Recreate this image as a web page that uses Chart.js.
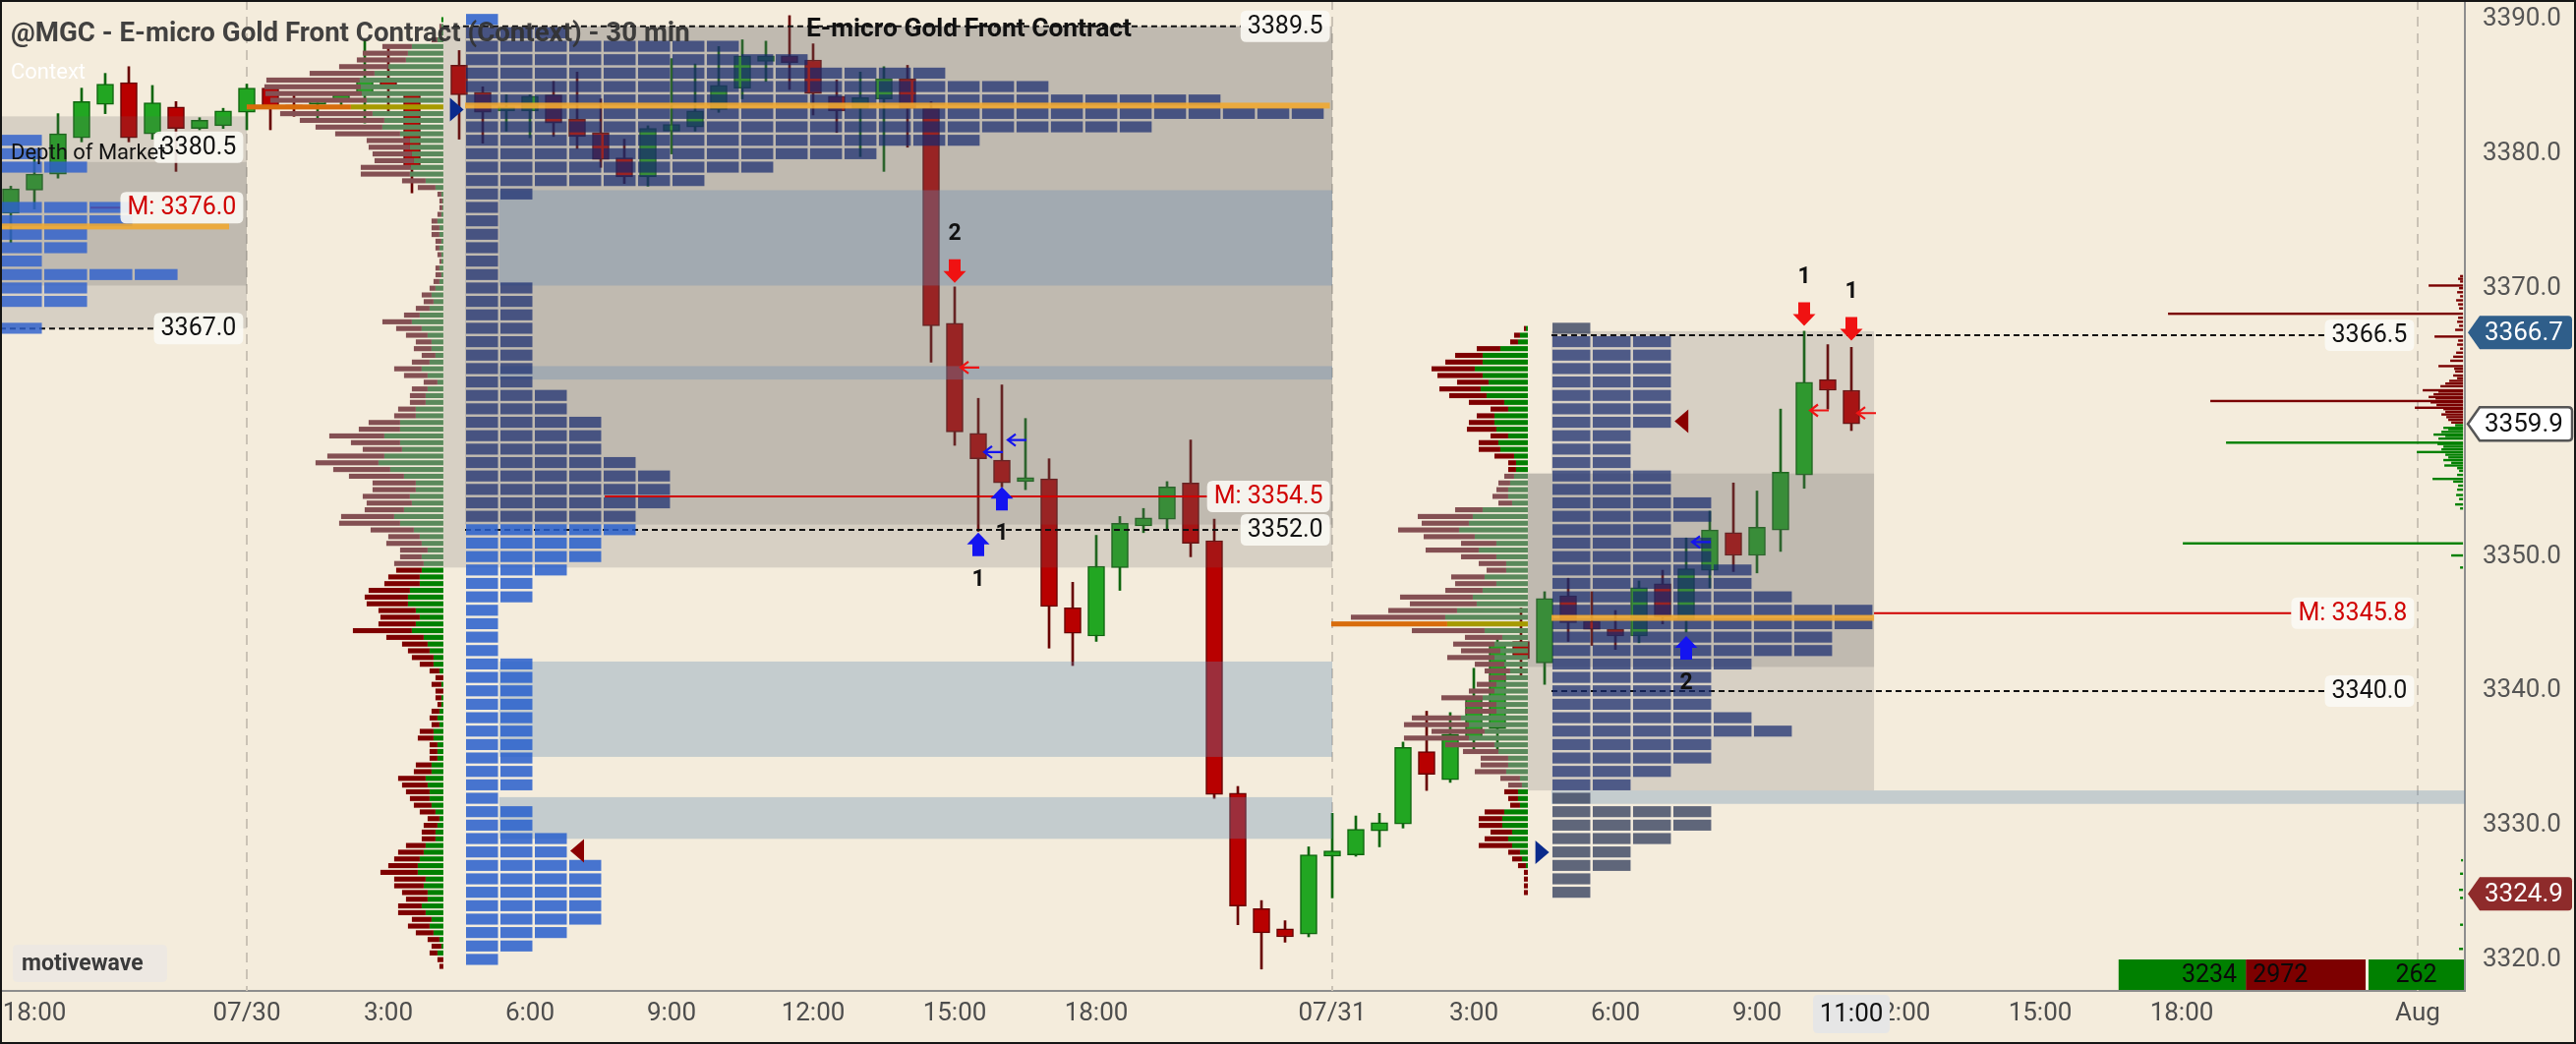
<!DOCTYPE html>
<html><head><meta charset="utf-8">
<script src="https://cdn.jsdelivr.net/npm/chart.js@4.4.1/dist/chart.umd.min.js"></script>
<style>
html,body{margin:0;padding:0;background:#F4ECDC;overflow:hidden;width:2620px;height:1062px}
canvas{display:block}
</style></head>
<body><canvas id="c" width="2620" height="1062" style="width:2620px;height:1062px"></canvas>
<script>
// ---------------- DATA ----------------
// 30-min candles, index = bar number (null = no bar)
const candleOpen = [3375.6,3377.3,3378.5,3381.2,3383.7,3385.3,3381.5,3383.5,3381.9,3382.1,
 3383.1,3384.9,3383.6,3383.7,3383.9,3384.4,3385.4,3384.5,null,3386.6,
 3384.6,3383.2,3383.2,3384.4,3382.6,3381.6,3379.7,3378.3,3381.7,3382.0,
 3383.3,3384.9,3386.9,3387.3,3387.0,3384.3,3383.4,3384.1,3385.6,3383.4,
 3367.4,3359.2,3357.2,3355.6,3355.8,3346.2,3344.1,3349.2,3352.3,3352.8,
 3355.5,3351.2,3332.4,3323.8,3322.3,3321.9,3327.7,3327.8,3329.6,3330.1,
 3335.5,3333.4,3336.5,3337.2,3343.7,3342.1,3347.1,3345.2,3344.6,3344.1,
 3348.0,3345.3,3349.0,3351.8,3350.1,3352.0,3356.1,3363.2,3362.4];
const candleHigh = [3377.6,3379.9,3383.0,3384.9,3386.0,3386.5,3385.1,3383.9,3382.7,3383.4,
 3385.2,3384.9,3384.4,3384.0,3384.6,3388.5,3388.0,3384.5,null,3387.7,
 3385.0,3384.4,3384.4,3385.4,3386.1,3384.1,3381.1,3382.1,3387.1,3386.7,
 3388.0,3388.5,3388.4,3390.3,3388.2,3385.5,3386.1,3386.5,3386.6,3383.9,
 3370.1,3361.8,3362.8,3360.3,3357.3,3348.1,3351.6,3353.0,3353.6,3355.6,
 3358.7,3352.8,3332.9,3324.4,3322.9,3328.4,3330.9,3330.7,3330.9,3336.2,
 3338.5,3338.4,3341.7,3343.9,3346.2,3347.4,3348.4,3347.4,3346.0,3348.2,
 3349.0,3351.4,3353.4,3355.5,3354.9,3361.0,3366.8,3365.8,3365.6];
const candleLow = [3373.4,3375.9,3378.2,3380.9,3383.0,3380.9,3381.1,3378.7,3381.8,3381.9,
 3381.8,3381.8,3382.8,3382.5,3383.6,3382.3,3382.9,3377.1,null,3381.1,
 3380.8,3381.7,3381.2,3381.3,3380.4,3379.0,3377.8,3377.6,3380.0,3381.7,
 3383.1,3384.1,3385.4,3384.8,3382.9,3381.6,3379.8,3378.7,3380.5,3364.5,
 3358.3,3351.9,3355.2,3355.0,3343.2,3341.9,3343.7,3347.5,3351.8,3352.0,
 3350.0,3332.0,3322.6,3319.3,3321.3,3321.7,3324.6,3327.7,3328.4,3329.8,
 3332.6,3333.2,3335.5,3335.5,3341.2,3340.5,3343.7,3343.4,3343.1,3343.6,
 3345.0,3344.4,3347.7,3348.9,3348.8,3350.4,3355.1,3361.0,3359.4];
const candleClose = [3377.4,3378.5,3381.5,3383.9,3385.2,3381.2,3383.8,3381.9,3382.5,3383.2,
 3384.9,3383.4,3383.5,3383.9,3384.4,3385.5,3384.9,3379.0,null,3384.4,
 3383.1,3383.5,3384.3,3382.3,3381.3,3379.6,3378.3,3381.9,3382.2,3383.2,
 3385.1,3387.3,3387.3,3386.8,3384.5,3383.2,3384.2,3385.6,3383.4,3367.2,
 3359.3,3357.3,3355.5,3355.9,3346.3,3344.3,3349.3,3352.5,3352.9,3355.2,
 3351.0,3332.3,3324.0,3322.0,3321.7,3327.8,3328.1,3329.7,3330.2,3335.8,
 3333.8,3336.8,3339.5,3343.6,3342.4,3346.9,3345.1,3344.6,3344.1,3347.7,
 3345.5,3349.1,3352.0,3350.1,3352.2,3356.3,3363.0,3362.4,3359.9];

// time axis: bar positions and their labels
const tickBars   = [1, 10, 16, 22, 28, 34, 40, 46, 56, 62, 68, 74, 80, 86, 92, 102];
const tickLabels = ['18:00','07/30','3:00','6:00','9:00','12:00','15:00','18:00','07/31','3:00','6:00','9:00','12:00','15:00','18:00','Aug'];
const crossBar = 78, crossLabel = '11:00';
const priceTicks = [3320, 3330, 3340, 3350, 3360, 3370, 3380, 3390];
const daySeparators = [10, 56, 102];

// volume profile, session 07/30 (rows of 0.5 from 3390.0 down)
const vp2Top = 3390.0;
const vp2Sell = [0,2,2,6,30,46,50,50,66,95, 98,98,98,106,94,86,68,66,44,42,
 40,40,51,50,24,18,4,3,3,4, 6,8,8,6,4,4,2,4,6,6,
 6,10,10,14,16,30,26,22,16,18, 14,18,28,24,14,16,16,16,18,22,
 32,42,56,50,40,58,64,58,56,44, 44,48,46,40,54,62,44,32,36,28,
 22,30,26,32,36,42,44,42,38,40, 38,60,38,26,22,22,14,10,8,10,
 8,6,4,8,8,8,14,16,8,8, 8,16,18,28,26,24,20,18,16,12,
 14,14,14,20,26,26,30,38,32,30, 26,22,24,28,20,22,18,12,10,8, 6,4];
const vp2Buy = [2,2,2,6,32,36,38,56,70,85, 84,83,78,94,72,60,62,44,34,34,
 32,30,33,34,18,8,2,1,1,2, 6,4,4,2,4,2,2,4,2,4,
 8,12,10,14,24,32,22,16,12,12, 8,14,22,16,6,16,18,18,28,28,
 44,44,60,44,42,60,66,54,40,28, 28,34,32,40,50,44,30,24,22,16,
 22,20,22,24,24,34,36,36,28,24, 28,32,20,16,14,10,10,4,0,2,
 0,2,2,4,6,4,10,10,6,6, 6,12,12,18,16,14,14,12,8,4,
 6,8,8,18,20,24,26,26,18,20, 16,16,22,18,12,14,10,4,2,6, 0,0];
// volume profile, session 07/31 (rows of 0.5 from 3367.0 down)
const vp3Top = 3367.0;
const vp3Sell = [2,6,8,24,28,38,44,46,32,42, 38,36,18,18,26,30,18,20,22,20,
 8,8,10,12,12,16,14,28,56,48, 62,52,36,54,36,28,20,34,42,38,
 74,68,70,96,118,74,38,42,40,48, 30,26,18,20,26,42,32,32,50,66,
 54,66,50,36,28,28,32,20,14,14, 10,10,20,24,24,22,24,34,12,10, 8,4,4,4,4];
const vp3Buy = [2,8,10,28,46,46,54,46,40,48, 42,24,20,34,34,32,20,30,28,14,
 12,12,14,18,20,20,16,46,56,60, 70,54,32,50,32,22,22,44,32,46,
 56,52,72,84,82,44,26,34,28,34, 24,18,22,32,34,46,32,32,68,60,
 44,60,34,30,20,20,22,8,6,10, 10,8,24,26,26,16,20,16,8,6, 2,0,0,0,0];

// TPO profiles (blocks per 1.0 price row, from top row down)
const tpo1Top = 3381;
const tpo1Counts = [1,1,2,0,0,3,3,2,2,1,4,2,2,0,1];
const tpo2Top = 3390;
const tpo2Counts = [1,3,8,10,14,17,22,25,20,15, 12,9,7,2,1,1,1,1,1,1,
 2,2,2,2,2,2,2,2,3,3, 4,4,4,5,6,6,6,5,5,4, 4,3,2,2,1,1,1,1,2,2,
 2,2,2,2,2,2,2,2,1,2, 2,3,3,4,4,4,4,4,3,2, 1];
const tpo3Top = 3367;
const tpo3Counts = [1,3,3,3,3,3,3,3,2,2, 2,3,3,4,4,3,4,4,5,5,
 6,8,8,7,7,5,4,4,4,5, 6,4,4,3,2,1,4,4,3,2, 2,1,1];
const tpoPocPrice = [3374.6, 3383.6, 3345.45];

// depth of market (price, size)
const domAskPrice = [3370.9,3370.7,3370.5,3370.2,3370.0,3369.7,3369.4,3369.1,3368.8,3368.5,
 3368.1,3367.8,3367.5,3367.2,3366.9,3366.4,3366.1,3365.8,3365.5,3365.2,
 3364.9,3364.6,3364.2,3364.0,3363.8,3363.5,3363.3,3363.1,3362.9,3362.7,
 3362.4,3362.3,3362.1,3361.9,3361.8,3361.6,3361.5,3361.3,3361.1,3361.0,
 3360.8,3360.6,3360.4,3360.2,3360.0];
const domAskSize = [3,5,3,35,4,6,3,7,5,4, 300,5,6,4,8,29,5,6,3,7,
 10,13,25,9,8,10,6,14,18,23, 41,25,30,35,28,257,33,27,49,20, 18,22,17,15,12];
const domBidPrice = [3359.8,3359.6,3359.5,3359.3,3359.1,3359.0,3358.8,3358.5,3358.4,3358.2,
 3358.0,3357.8,3357.6,3357.4,3357.2,3357.0,3356.8,3356.6,3356.4,3356.1,
 3355.8,3355.6,3355.3,3355.0,3354.6,3354.3,3353.9,3353.6,3351.0,3350.1,
 3349.2,3327.4,3326.4,3325.2,3324.6,3322.6,3320.8];
const domBidSize = [8,20,15,22,30,18,25,241,26,20, 22,47,18,15,20,12,19,6,4,6,
 31,10,5,6,7,4,8,3,285,12, 3,2,3,4,3,3,4];

// key levels
const dashPrice = [3389.5, 3367.0, 3352.0, 3366.5, 3340.0];
const medianPrice = [3376.0, 3354.5, 3345.8];
const plainLabelPrice = [3380.5];

// signals
const sigBar = [40, 41, 42, 76, 78, 71];
const sigTip = [3370.4, 3351.8, 3355.2, 3367.2, 3366.1, 3344.1];
const sigSide = ['sell','buy','buy','sell','sell','buy'];
const sigCount = ['2','1','1','1','1','2'];
const hintBar = [40, 41, 42, 76, 78, 71];
const hintPrice = [3364.1, 3357.8, 3358.7, 3360.9, 3360.7, 3351.1];
const hintSide = ['sell','buy','buy','sell','sell','buy'];
const triBar = [18.9, 64.9, 24.0, 70.8];
const triPrice = [3383.3, 3328.0, 3328.1, 3360.1];
const triSide = ['buy','buy','sell','sell'];

// price tags on the axis
const tagPrice = [3366.7, 3359.9, 3324.9];
const tagKind = ['last','bid','low'];
// footer: buy volume, sell volume, delta
const footerValues = [3234, 2972, 262];

// ---------------- LAYOUT CONSTANTS (geometry, not data) ----------------
const X_MIN = -0.4583, X_MAX = 104.0, Y_MIN = 3317.672, Y_MAX = 3391.464;
const S1 = {x0:-0.46, x1:10, tpoStart:-0.54, col:1.917, labelRight:9.85};
const S2 = {x0:18.33, tpo:19.25, x1:56, col:1.458, vpAnchor:18.33, labelRight:55.9};
const S3 = {x0:64.29, tpo:65.29, x1:78.96, col:1.708, vpAnchor:64.29, labelRight:101.85};
const VOL_UNIT = 1/24;   // bars per volume unit
const DOM_ANCHOR = 103.92;

// ---------------- CANDLE DATASETS ----------------
const bodies = [], wicks = [], bodyFill = [], bodyLine = [], wickCol = [];
for (let i = 0; i < candleOpen.length; i++) {
  if (candleOpen[i] == null) continue;
  const up = candleClose[i] >= candleOpen[i];
  bodies.push({x: i, y: [candleOpen[i], candleClose[i]]});
  wicks.push({x: i, y: [candleLow[i], candleHigh[i]]});
  bodyFill.push(up ? '#22A622' : '#B80000');
  bodyLine.push(up ? '#0F660F' : '#680000');
  wickCol.push(up ? '#0F660F' : '#680000');
}

// ---------------- HELPERS ----------------
function rr(ctx, x, y, w, h, r) {
  ctx.beginPath(); ctx.moveTo(x + r, y); ctx.lineTo(x + w - r, y); ctx.quadraticCurveTo(x + w, y, x + w, y + r);
  ctx.lineTo(x + w, y + h - r); ctx.quadraticCurveTo(x + w, y + h, x + w - r, y + h); ctx.lineTo(x + r, y + h);
  ctx.quadraticCurveTo(x, y + h, x, y + h - r); ctx.lineTo(x, y + r); ctx.quadraticCurveTo(x, y, x + r, y); ctx.closePath();
}
function tagLabel(ctx, text, xr, y, color) {
  ctx.font = '25px Roboto';
  const w = ctx.measureText(text).width + 14, h = 32;
  ctx.fillStyle = 'rgba(251,249,244,0.9)'; rr(ctx, xr - w, y - h / 2, w, h, 6); ctx.fill();
  ctx.fillStyle = color; ctx.textAlign = 'right'; ctx.textBaseline = 'middle';
  ctx.fillText(text, xr - 7, y + 1);
  return xr - w;
}
function drawProfile(ctx, X, Y, top, sells, buys, anchor, vaHi, vaLo) {
  const step = 0.5, rowPx = Y(top - step) - Y(top), h = rowPx - 1.7;
  let poc = 0, best = -1;
  sells.forEach((s, i) => { const t = s + buys[i]; if (t > best) { best = t; poc = i; } });
  const xa = X(anchor);
  for (let i = 0; i < sells.length; i++) {
    const p = top - i * step, yc = Y(p);
    const inVA = p <= vaHi && p >= vaLo;
    let cs, cb;
    if (i === poc) { cs = '#D86C0C'; cb = '#A69A00'; }
    else if (inVA) { cs = '#845053'; cb = '#5A895B'; }
    else { cs = '#7E0000'; cb = '#008000'; }
    const xb = X(anchor - buys[i] * VOL_UNIT), xs0 = X(anchor - (buys[i] + sells[i]) * VOL_UNIT);
    ctx.fillStyle = cb; ctx.fillRect(xb, yc - h / 2, xa - xb, h);
    ctx.fillStyle = cs; ctx.fillRect(xs0, yc - h / 2, xb - xs0, h);
  }
}
function drawTPO(ctx, X, Y, top, counts, start, col, inCol, outCol, boxHi, boxLo) {
  const rowPx = Y(top - 1) - Y(top);
  counts.forEach((c, i) => {
    const p = top - i, yT = Y(p + 0.5);
    ctx.fillStyle = (p <= boxHi && p >= boxLo) ? inCol : outCol;
    for (let k = 0; k < c; k++) {
      const x0 = X(start + k * col), x1 = X(start + (k + 1) * col);
      ctx.fillRect(x0 + 1, yT + 1, x1 - x0 - 2.5, rowPx - 2.5);
    }
  });
}
function fitFont(ctx, text, weight, target, base) {
  ctx.font = weight + ' ' + base + 'px Roboto';
  const w = ctx.measureText(text).width;
  ctx.font = weight + ' ' + (base * target / w).toFixed(2) + 'px Roboto';
}
function noPad(s) { s.paddingTop = 0; s.paddingBottom = 0; s.paddingLeft = 0; s.paddingRight = 0; }

// ---------------- PLUGIN ----------------
const painter = {
  id: 'painter',
  beforeDraw(chart) {
    const {ctx, width, height} = chart;
    ctx.save(); ctx.fillStyle = '#F4ECDC'; ctx.fillRect(0, 0, width, height); ctx.restore();
  },
  beforeDatasetsDraw(chart) {
    const {ctx, chartArea: a, scales: {x}} = chart;
    ctx.save(); ctx.strokeStyle = '#CAC2B5'; ctx.lineWidth = 2; ctx.setLineDash([10, 7]);
    daySeparators.forEach(b => { const px = Math.round(x.getPixelForValue(b)); ctx.beginPath(); ctx.moveTo(px, a.top); ctx.lineTo(px, a.bottom); ctx.stroke(); });
    ctx.restore();
  },
  afterDatasetsDraw(chart) {
    const {ctx, chartArea: a, scales: {x: xs, y: ys}} = chart;
    const X = v => xs.getPixelForValue(v), Y = v => ys.getPixelForValue(v);
    ctx.save();
    ctx.beginPath(); ctx.rect(a.left, a.top, a.right - a.left, a.bottom - a.top); ctx.clip();

    // session shading (value areas)
    const boxes = [
      [S1.x0, S1.x1, 3382.8, 3367.0], [S1.x0, S1.x1, 3379.4, 3370.2],
      [S2.x0, S2.x1, 3389.5, 3349.2], [S2.tpo, S2.x1, 3389.5, 3352.4],
      [S3.tpo, S3.x1, 3366.8, 3332.6], [S3.x0, S3.tpo, 3356.2, 3332.6], [S3.x0, S3.x1, 3356.2, 3341.8]
    ];
    ctx.fillStyle = 'rgba(100,100,100,0.2)';
    boxes.forEach(b => ctx.fillRect(X(b[0]), Y(b[2]), X(b[1]) - X(b[0]), Y(b[3]) - Y(b[2])));
    const bands = [
      [20.7, S2.x1, 3377.3, 3370.2], [20.7, S2.x1, 3364.2, 3363.2], [20.7, S2.x1, 3342.2, 3335.1],
      [20.7, S2.x1, 3332.1, 3329.0], [S3.tpo, X_MAX, 3332.6, 3331.6]
    ];
    ctx.fillStyle = 'rgba(100,140,180,0.33)';
    bands.forEach(b => ctx.fillRect(X(b[0]), Y(b[2]), X(b[1]) - X(b[0]), Y(b[3]) - Y(b[2])));

    // level lines (under the TPO blocks)
    const dashFrom = [S2.x0, S1.x0, S2.tpo, S3.tpo, S3.tpo];
    const dashRight = [S2.labelRight, S1.labelRight, S2.labelRight, S3.labelRight, S3.labelRight];
    const medFrom = [3.375, 25.17, S3.x1];
    const medRight = [S1.labelRight, S2.labelRight, S3.labelRight];
    ctx.font = '25px Roboto';
    dashPrice.forEach((p, i) => {
      const w = ctx.measureText(p.toFixed(1)).width + 14;
      ctx.strokeStyle = '#111'; ctx.lineWidth = 2; ctx.setLineDash([6, 4]);
      ctx.beginPath(); ctx.moveTo(X(dashFrom[i]), Y(p)); ctx.lineTo(X(dashRight[i]) - w, Y(p)); ctx.stroke();
    });
    ctx.setLineDash([]);
    medianPrice.forEach((p, i) => {
      const w = ctx.measureText('M: ' + p.toFixed(1)).width + 14;
      ctx.strokeStyle = '#D00000'; ctx.lineWidth = 2;
      ctx.beginPath(); ctx.moveTo(X(medFrom[i]), Y(p)); ctx.lineTo(X(medRight[i]) - w, Y(p)); ctx.stroke();
    });

    // TPO blocks
    drawTPO(ctx, X, Y, tpo1Top, tpo1Counts, S1.tpoStart, S1.col, 'rgba(45,95,205,0.82)', 'rgba(45,95,205,0.82)', 0, 0);
    drawTPO(ctx, X, Y, tpo2Top, tpo2Counts, S2.tpo, S2.col, 'rgba(20,40,110,0.7)', 'rgba(40,95,205,0.85)', 3389.5, 3352.4);
    drawTPO(ctx, X, Y, tpo3Top, tpo3Counts, S3.tpo, S3.col, 'rgba(20,40,110,0.7)', 'rgba(62,72,100,0.82)', 3366.8, 3332.6);
    // TPO points of control
    const pocX0 = [S1.x0, S2.tpo, S3.tpo], pocX1 = [9.25, 55.9, S3.x1];
    ctx.fillStyle = 'rgba(240,168,50,0.9)';
    tpoPocPrice.forEach((p, i) => ctx.fillRect(X(pocX0[i]), Y(p) - 3, X(pocX1[i]) - X(pocX0[i]), 6));

    // volume profiles
    drawProfile(ctx, X, Y, vp2Top, vp2Sell, vp2Buy, S2.vpAnchor, 3389.6, 3349.4);
    drawProfile(ctx, X, Y, vp3Top, vp3Sell, vp3Buy, S3.vpAnchor, 3356.2, 3332.7);

    // depth of market
    const xd = X(DOM_ANCHOR);
    ctx.fillStyle = '#7A0000';
    domAskPrice.forEach((p, i) => { const x0 = X(DOM_ANCHOR - domAskSize[i] * VOL_UNIT); ctx.fillRect(x0, Y(p) - 1.2, xd - x0, 2.4); });
    ctx.fillStyle = '#008000';
    domBidPrice.forEach((p, i) => { const x0 = X(DOM_ANCHOR - domBidSize[i] * VOL_UNIT); ctx.fillRect(x0, Y(p) - 1.2, xd - x0, 2.4); });

    // level labels
    dashPrice.forEach((p, i) => tagLabel(ctx, p.toFixed(1), X(dashRight[i]), Y(p), '#111'));
    plainLabelPrice.forEach(p => tagLabel(ctx, p.toFixed(1), X(S1.labelRight), Y(p), '#111'));
    medianPrice.forEach((p, i) => tagLabel(ctx, 'M: ' + p.toFixed(1), X(medRight[i]), Y(p), '#D00000'));

    // triangles
    triBar.forEach((b, i) => {
      const cx = X(b), cy = Y(triPrice[i]);
      ctx.fillStyle = triSide[i] === 'buy' ? '#0A2A8C' : '#8A0000';
      ctx.beginPath();
      if (triSide[i] === 'buy') { ctx.moveTo(cx - 7, cy - 12); ctx.lineTo(cx + 7, cy); ctx.lineTo(cx - 7, cy + 12); }
      else { ctx.moveTo(cx + 7, cy - 12); ctx.lineTo(cx - 7, cy); ctx.lineTo(cx + 7, cy + 12); }
      ctx.closePath(); ctx.fill();
    });

    // small hint arrows
    hintBar.forEach((b, i) => {
      const x0 = X(b) + 6, y0 = Y(hintPrice[i]);
      ctx.strokeStyle = hintSide[i] === 'buy' ? '#1414EE' : '#EE1414'; ctx.lineWidth = 2.2;
      ctx.beginPath(); ctx.moveTo(x0, y0); ctx.lineTo(x0 + 19, y0);
      ctx.moveTo(x0 + 8, y0 - 6); ctx.lineTo(x0, y0); ctx.lineTo(x0 + 8, y0 + 6); ctx.stroke();
    });

    // signal arrows with counts
    sigBar.forEach((b, i) => {
      const cx = X(b), ty = Y(sigTip[i]);
      const down = sigSide[i] === 'sell';
      ctx.fillStyle = down ? '#F01212' : '#1414F0';
      ctx.beginPath();
      if (down) {
        ctx.moveTo(cx - 6, ty - 24); ctx.lineTo(cx + 6, ty - 24); ctx.lineTo(cx + 6, ty - 12); ctx.lineTo(cx + 11.5, ty - 12);
        ctx.lineTo(cx, ty); ctx.lineTo(cx - 11.5, ty - 12); ctx.lineTo(cx - 6, ty - 12);
      } else {
        ctx.moveTo(cx - 6, ty + 24); ctx.lineTo(cx + 6, ty + 24); ctx.lineTo(cx + 6, ty + 12); ctx.lineTo(cx + 11.5, ty + 12);
        ctx.lineTo(cx, ty); ctx.lineTo(cx - 11.5, ty + 12); ctx.lineTo(cx - 6, ty + 12);
      }
      ctx.closePath(); ctx.fill();
      ctx.fillStyle = '#111'; ctx.font = 'bold 23px Roboto'; ctx.textAlign = 'center'; ctx.textBaseline = 'middle';
      ctx.fillText(sigCount[i], cx, down ? ty - 49 : ty + 48);
    });
    ctx.restore();
  },
  afterDraw(chart) {
    const {ctx, chartArea: a, scales: {x: xs, y: ys}, width, height} = chart;
    ctx.save();
    // title & captions
    ctx.textAlign = 'left'; ctx.textBaseline = 'alphabetic';
    const title = '@MGC - E-micro Gold Front Contract (Context) - 30 min';
    fitFont(ctx, title, 'bold', 691, 26); ctx.fillStyle = 'rgba(50,50,50,0.92)'; ctx.fillText(title, 11, 42);
    ctx.font = '22px Roboto'; ctx.fillStyle = '#FFFFFF'; ctx.fillText('Context', 11, 80);
    ctx.font = '22px Roboto'; ctx.fillStyle = '#111'; ctx.fillText('Depth of Market', 11, 162);
    const sub = 'E-micro Gold Front Contract';
    fitFont(ctx, sub, 'bold', 331, 23); ctx.fillStyle = '#111'; ctx.fillText(sub, 820, 37);

    // watermark
    ctx.fillStyle = 'rgba(236,232,225,0.95)'; rr(ctx, 13, 961, 157, 38, 5); ctx.fill();
    ctx.font = 'bold 23px Roboto'; ctx.fillStyle = '#3a3a3a'; ctx.textBaseline = 'middle'; ctx.fillText('motivewave', 22, 981);

    // footer volume boxes
    const r = a.right - 1, fy = 976, fh = 31;
    const wd = 97, ws = footerValues[1] * 0.041, wb = footerValues[0] * 0.04;
    ctx.fillStyle = '#008000'; ctx.fillRect(r - wd, fy, wd, fh);
    ctx.fillStyle = '#7D0000'; ctx.fillRect(r - wd - 3 - ws, fy, ws, fh);
    ctx.fillStyle = '#008000'; ctx.fillRect(r - wd - 3 - ws - wb, fy, wb, fh);
    ctx.fillStyle = '#0a0a0a'; ctx.font = '25px Roboto'; ctx.textBaseline = 'middle';
    ctx.textAlign = 'right'; ctx.fillText(String(footerValues[0]), r - wd - 3 - ws - 9, fy + fh / 2 + 1);
    ctx.textAlign = 'left'; ctx.fillText(String(footerValues[1]), r - wd - 3 - ws + 7, fy + fh / 2 + 1);
    ctx.textAlign = 'center'; ctx.fillText(String(footerValues[2]), r - wd / 2, fy + fh / 2 + 1);

    // crosshair time label
    const cxp = xs.getPixelForValue(crossBar);
    ctx.fillStyle = '#E6E6E6'; rr(ctx, cxp - 39, a.bottom + 4, 78, 39, 5); ctx.fill();
    ctx.fillStyle = '#111'; ctx.font = '26px Roboto'; ctx.textAlign = 'center'; ctx.textBaseline = 'middle';
    ctx.fillText(crossLabel, cxp, a.bottom + 24);

    // price tags on axis
    const styles = {last: ['#2F5E8A', null, '#fff'], bid: ['#FFFFFF', '#555', '#111'], low: ['#8E2B2B', null, '#fff']};
    tagPrice.forEach((p, i) => {
      const y = ys.getPixelForValue(p), st = styles[tagKind[i]];
      const x0 = a.right + 3, x1 = a.right + 15, x2 = width - 4, h = 17;
      ctx.beginPath(); ctx.moveTo(x0, y); ctx.lineTo(x1, y - h); ctx.lineTo(x2 - 4, y - h); ctx.quadraticCurveTo(x2, y - h, x2, y - h + 4);
      ctx.lineTo(x2, y + h - 4); ctx.quadraticCurveTo(x2, y + h, x2 - 4, y + h); ctx.lineTo(x1, y + h); ctx.closePath();
      ctx.fillStyle = st[0]; ctx.fill();
      if (st[1]) { ctx.lineWidth = 2.5; ctx.strokeStyle = st[1]; ctx.stroke(); }
      ctx.fillStyle = st[2]; ctx.font = '26px Roboto'; ctx.textAlign = 'left'; ctx.textBaseline = 'middle';
      ctx.fillText(p.toFixed(1), a.right + 20, y + 1);
    });

    // frame
    ctx.strokeStyle = '#151515'; ctx.lineWidth = 2; ctx.strokeRect(1, 1, width - 2, height - 2);
    ctx.restore();
  }
};

// ---------------- CHART ----------------
Chart.register(painter);
new Chart(document.getElementById('c'), {
  type: 'bar',
  data: {
    datasets: [
      {data: bodies, backgroundColor: bodyFill, borderColor: bodyLine, borderWidth: 1.5, borderSkipped: false,
       barThickness: 17, grouped: false, minBarLength: 2, order: 1},
      {data: wicks, backgroundColor: wickCol, borderWidth: 0, barThickness: 2, grouped: false, order: 2}
    ]
  },
  options: {
    responsive: false, maintainAspectRatio: false, devicePixelRatio: 1, animation: false, events: [],
    layout: {padding: 0},
    plugins: {legend: {display: false}, tooltip: {enabled: false}, title: {display: false}},
    scales: {
      x: {type: 'linear', min: X_MIN, max: X_MAX, offset: false,
          grid: {display: false, drawTicks: false, offset: false},
          border: {display: true, color: '#8d8d8d', width: 2},
          ticks: {autoSkip: false, maxRotation: 0, minRotation: 0, padding: 8, color: '#4d4d4d',
                  font: {family: 'Roboto', size: 26}, callback: (v, i) => tickLabels[i]},
          afterBuildTicks: s => { s.ticks = tickBars.map(v => ({value: v})); },
          afterFit: s => { s.height = 54; noPad(s); }},
      y: {type: 'linear', position: 'right', min: Y_MIN, max: Y_MAX,
          grid: {display: false, drawTicks: false},
          border: {display: true, color: '#8d8d8d', width: 2},
          ticks: {padding: 18, color: '#555', font: {family: 'Roboto', size: 26}, callback: v => Number(v).toFixed(1)},
          afterBuildTicks: s => { s.ticks = priceTicks.map(v => ({value: v})); },
          afterFit: s => { s.width = 113; noPad(s); }}
    }
  }
});
</script></body></html>
